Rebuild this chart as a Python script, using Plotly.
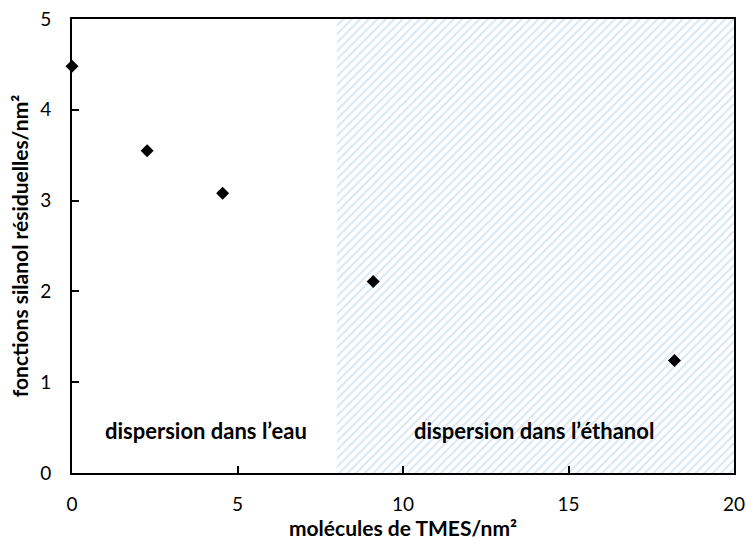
import plotly.graph_objects as go

# data
tmes = [0, 2.27, 4.55, 9.1, 18.2]
silanol = [4.48, 3.55, 3.08, 2.11, 1.24]

ethanol_x = [8, 20, 20, 8, 8]
ethanol_y = [0, 0, 5, 5, 0]

labels = ["dispersion dans l\u2019eau", "dispersion dans l\u2019\u00e9thanol"]
label_x = [4.05, 13.95]
label_y = [0.47, 0.47]

FONT = "Lato, 'Open Sans', sans-serif"

fig = go.Figure()

# hatched zone for the ethanol dispersion
fig.add_trace(go.Scatter(
    x=ethanol_x, y=ethanol_y, mode="lines", fill="toself",
    line=dict(width=0), fillcolor="rgba(0,0,0,0)",
    fillpattern=dict(shape="/", fgcolor="#b4cdeb", bgcolor="white",
                     size=6, solidity=0.35),
    hoverinfo="skip", showlegend=False,
))

fig.add_trace(go.Scatter(
    x=tmes, y=silanol, mode="markers",
    marker=dict(symbol="diamond", size=10, color="black"),
    showlegend=False, cliponaxis=False,
))

for txt, lx, ly in zip(labels, label_x, label_y):
    fig.add_annotation(x=lx, y=ly, text="<b>" + txt + "</b>", showarrow=False,
                       font=dict(family=FONT, size=22, color="black"))

fig.update_layout(
    width=746, height=547,
    margin=dict(l=72, r=12, t=19, b=74, autoexpand=False),
    plot_bgcolor="white", paper_bgcolor="white",
    font=dict(family=FONT, size=19, color="black"),
)
fig.update_xaxes(
    range=[0, 20], tickvals=[0, 5, 10, 15, 20],
    showgrid=False, zeroline=False,
    showline=True, linecolor="black", linewidth=2, mirror=True,
    ticks="inside", ticklen=7, tickwidth=1.5, tickcolor="black",
    ticklabelstandoff=13,
    title=dict(text="<b>mol\u00e9cules de TMES/nm\u00b2</b>", font=dict(size=21), standoff=7),
)
fig.update_yaxes(
    range=[0, 5], tickvals=[0, 1, 2, 3, 4, 5],
    showgrid=False, zeroline=False,
    showline=True, linecolor="black", linewidth=2, mirror=True,
    ticks="inside", ticklen=7, tickwidth=1.5, tickcolor="black",
    ticklabelstandoff=15,
    title=dict(text="<b>fonctions silanol r\u00e9siduelles/nm\u00b2</b>", font=dict(size=21), standoff=6),
)

# drop the default body margin so the figure sits at the page corner
fig.write_html("out.html", config={"displayModeBar": False},
               post_script="document.body.style.margin='0';")
